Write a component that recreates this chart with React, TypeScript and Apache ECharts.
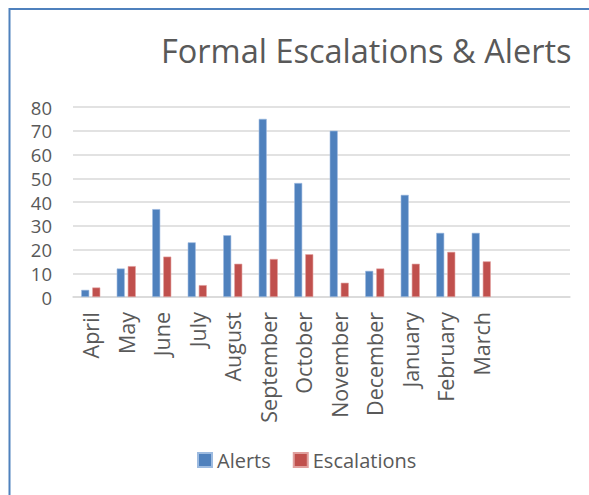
import React, { useEffect, useRef } from "react";
import * as echarts from "echarts";

const months = ["April", "May", "June", "July", "August", "September", "October", "November", "December", "January", "February", "March", "", ""];
const alerts = [3, 12, 37, 23, 26, 75, 48, 70, 11, 43, 27, 27, null, null];
const escalations = [4, 13, 17, 5, 14, 16, 18, 6, 12, 14, 19, 15, null, null];

const FONT = "'Open Sans', 'Noto Sans', sans-serif";
const TXT = "#595959";

export default function App() {
  const ref = useRef<HTMLDivElement>(null);
  useEffect(() => {
    if (!ref.current) return;
    const chart = echarts.init(ref.current, undefined, { renderer: "svg" });
    chart.setOption({
      animation: false,
      backgroundColor: "#ffffff",
      title: {
        text: "Formal Escalations & Alerts",
        left: 161,
        top: 34,
        padding: 0,
        textStyle: { fontFamily: FONT, fontSize: 32.5, fontWeight: "normal", color: TXT },
      },
      legend: {
        left: 197,
        top: 450,
        padding: 0,
        itemWidth: 14,
        itemHeight: 14,
        itemGap: 22,
        icon: "rect",
        textStyle: { fontFamily: FONT, fontSize: 20, color: TXT },
        data: ["Alerts", "Escalations"],
      },
      grid: { left: 73, right: 19, top: 107, bottom: 198, containLabel: false },
      xAxis: {
        type: "category",
        data: months,
        axisLine: { lineStyle: { color: "#d9d9d9", width: 1.5 } },
        axisTick: { show: false },
        axisLabel: {
          rotate: 90,
          margin: 15,
          interval: 0,
          fontFamily: FONT,
          fontSize: 21.5,
          lineHeight: 22,
          color: TXT,
        },
      },
      yAxis: {
        type: "value",
        min: 0,
        max: 80,
        interval: 10,
        axisLine: { show: false },
        axisTick: { show: false },
        splitLine: { lineStyle: { color: "#d9d9d9", width: 1.5 } },
        axisLabel: { margin: 21, fontFamily: FONT, fontSize: 18.5, lineHeight: 19, color: TXT },
      },
      series: [
        {
          name: "Alerts",
          type: "bar",
          data: alerts,
          barWidth: 8,
          barGap: "38%",
          itemStyle: { color: "#4F81BD", borderColor: "#9dbbe0", borderWidth: 0.6 },
        },
        {
          name: "Escalations",
          type: "bar",
          data: escalations,
          barWidth: 8,
          itemStyle: { color: "#C0504D", borderColor: "#e0a09e", borderWidth: 0.6 },
        },
      ],
      graphic: [
        { type: "line", shape: { x1: 9.5, y1: 8, x2: 9.5, y2: 495 }, style: { stroke: "#4F81BD", lineWidth: 2 } },
        { type: "line", shape: { x1: 9, y1: 9, x2: 589, y2: 9 }, style: { stroke: "#4F81BD", lineWidth: 2 } },
      ],
    });
    return () => chart.dispose();
  }, []);
  return <div ref={ref} style={{ position: "absolute", left: 0, top: 0, width: 589, height: 495 }} />;
}
